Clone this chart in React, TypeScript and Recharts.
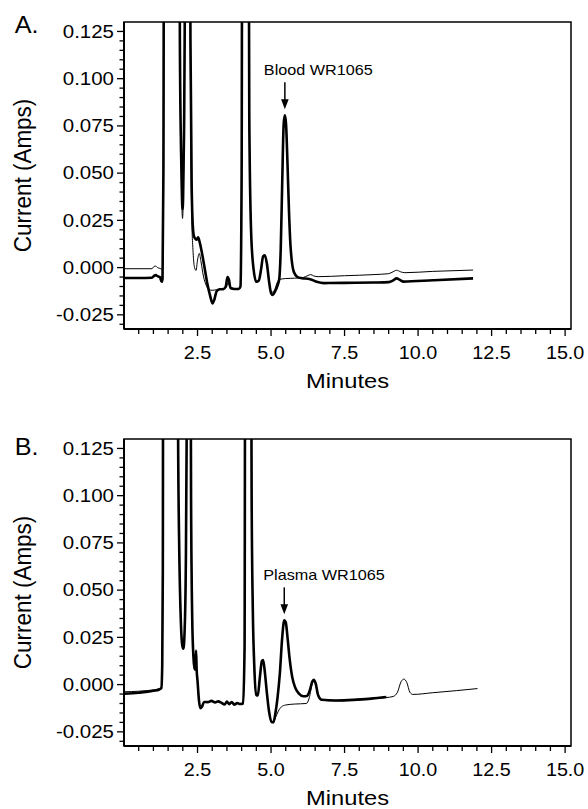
import React from 'react';
import { LineChart, Line, XAxis, YAxis, ReferenceArea, ReferenceDot } from 'recharts';

// ---- data (minutes, amps) ----
const bloodSampleA = [
  [0, -0.0055], [0.5, -0.0055], [0.95, -0.0054], [1.02, -0.0044], [1.08, -0.004], [1.14, -0.0045],
  [1.22, -0.005], [1.28, -0.0075], [1.31, -0.006], [1.34, 0.05], [1.37, 0.3], [1.86, 0.3],
  [1.9, 0.12], [1.94, 0.062], [1.97, 0.038], [1.99, 0.031], [2.01, 0.037], [2.04, 0.07],
  [2.07, 0.14], [2.09, 0.3], [2.22, 0.3], [2.26, 0.12], [2.3, 0.045], [2.34, 0.022],
  [2.38, 0.0165], [2.43, 0.0152], [2.47, 0.0148], [2.52, 0.016], [2.58, 0.013], [2.66, 0.007],
  [2.75, -0.001], [2.84, -0.009], [2.93, -0.015], [3.01, -0.019], [3.07, -0.017], [3.15, -0.0125],
  [3.25, -0.0115], [3.38, -0.0114], [3.46, -0.01], [3.52, -0.005], [3.57, -0.0065], [3.62, -0.0108],
  [3.75, -0.0113], [3.9, -0.0113], [3.96, -0.01], [4.0, 0.05], [4.03, 0.3], [4.22, 0.3],
  [4.26, 0.08], [4.32, 0.02], [4.4, 0.0], [4.5, -0.0075], [4.58, -0.007], [4.66, -0.001],
  [4.73, 0.006], [4.79, 0.0065], [4.86, 0.002], [4.93, -0.007], [5.0, -0.0135], [5.06, -0.0145],
  [5.14, -0.0125], [5.22, -0.0095], [5.28, -0.006], [5.33, 0.01], [5.38, 0.045], [5.43, 0.076],
  [5.47, 0.0806], [5.51, 0.076], [5.56, 0.055], [5.61, 0.03], [5.66, 0.012], [5.71, 0.003],
  [5.78, -0.0025], [5.9, -0.005], [6.05, -0.0056], [6.3, -0.006], [6.55, -0.0075], [6.8, -0.0082],
  [7.5, -0.0081], [8.5, -0.0079], [9.0, -0.0077], [9.15, -0.0068], [9.27, -0.0057], [9.38, -0.0065],
  [9.5, -0.0074], [10.5, -0.0067], [11.87, -0.0057],
];

const bloodBlankA = [
  [0, -0.0006], [0.95, -0.0006], [1.02, 0.0006], [1.08, 0.0008], [1.14, 0.0], [1.22, -0.0004],
  [1.28, -0.0008], [1.31, -0.0006], [1.34, 0.05], [1.37, 0.3], [1.86, 0.3], [1.9, 0.12],
  [1.94, 0.058], [1.97, 0.032], [1.99, 0.026], [2.01, 0.033], [2.04, 0.07], [2.07, 0.14],
  [2.09, 0.3], [2.22, 0.3], [2.26, 0.1], [2.3, 0.03], [2.35, 0.008], [2.4, 0.0], [2.45, -0.0015],
  [2.5, 0.004], [2.56, 0.0075], [2.62, 0.003], [2.7, -0.0045], [2.8, -0.0095], [2.9, -0.0118],
  [3.0, -0.012], [3.15, -0.0117], [3.35, -0.0112], [3.48, -0.0105], [3.53, -0.008], [3.58, -0.0095],
  [3.65, -0.011], [3.8, -0.0112], [3.92, -0.0112], [3.96, -0.01], [4.0, 0.05], [4.03, 0.3],
  [4.22, 0.3], [4.26, 0.08], [4.32, 0.02], [4.4, 0.0], [4.5, -0.0078], [4.58, -0.0072],
  [4.66, -0.0015], [4.73, 0.0052], [4.79, 0.0058], [4.86, 0.0015], [4.93, -0.0068], [5.0, -0.0125],
  [5.06, -0.013], [5.14, -0.011], [5.22, -0.0075], [5.3, -0.0062], [5.5, -0.0058], [5.8, -0.0056],
  [6.1, -0.0052], [6.25, -0.0042], [6.35, -0.0037], [6.45, -0.0044], [6.6, -0.0048], [7.5, -0.0043],
  [8.5, -0.0037], [9.0, -0.0032], [9.15, -0.0022], [9.27, -0.0014], [9.4, -0.0022], [9.55, -0.0027],
  [10.5, -0.002], [11.87, -0.0013],
];

const plasmaSampleB = [
  [0, -0.0048], [0.5, -0.0043], [1.0, -0.0033], [1.2, -0.0026], [1.27, -0.0018], [1.3, 0.01],
  [1.32, 0.06], [1.34, 0.3], [1.8, 0.3], [1.84, 0.13], [1.88, 0.07], [1.93, 0.035], [1.98, 0.021],
  [2.02, 0.019], [2.06, 0.028], [2.1, 0.06], [2.13, 0.13], [2.15, 0.3], [2.24, 0.3], [2.28, 0.1],
  [2.32, 0.035], [2.36, 0.015], [2.4, 0.008], [2.43, 0.0085], [2.45, 0.018], [2.47, 0.008],
  [2.5, 0.002], [2.55, -0.0085], [2.6, -0.0125], [2.65, -0.0118], [2.72, -0.0092], [2.85, -0.0093],
  [2.97, -0.0086], [3.1, -0.0095], [3.2, -0.0089], [3.32, -0.0097], [3.42, -0.0105], [3.5, -0.009],
  [3.58, -0.0104], [3.66, -0.0092], [3.75, -0.0106], [3.85, -0.0098], [3.95, -0.0103], [4.05, -0.01],
  [4.1, 0.02], [4.13, 0.3], [4.3, 0.3], [4.34, 0.1], [4.38, 0.04], [4.43, 0.01], [4.5, -0.0055],
  [4.55, -0.0058], [4.62, 0.004], [4.69, 0.0125], [4.73, 0.013], [4.78, 0.008], [4.85, -0.003],
  [4.93, -0.014], [5.02, -0.0198], [5.08, -0.02], [5.15, -0.015], [5.22, -0.007], [5.3, 0.006],
  [5.38, 0.025], [5.45, 0.034], [5.5, 0.033], [5.56, 0.025], [5.63, 0.014], [5.72, 0.004],
  [5.82, -0.0015], [5.95, -0.0048], [6.1, -0.0062], [6.22, -0.006], [6.32, -0.003], [6.4, 0.0015],
  [6.45, 0.0025], [6.52, 0.0005], [6.6, -0.0055], [6.72, -0.008], [7.2, -0.0084], [7.8, -0.0081],
  [8.4, -0.0074], [8.92, -0.0066],
];

const plasmaBlankB = [
  [0, -0.0038], [0.5, -0.0035], [1.0, -0.0028], [1.2, -0.0022], [1.27, -0.0016], [1.3, 0.01],
  [1.32, 0.06], [1.34, 0.3], [1.8, 0.3], [1.84, 0.13], [1.88, 0.07], [1.93, 0.035], [1.98, 0.021],
  [2.02, 0.019], [2.06, 0.028], [2.1, 0.06], [2.13, 0.13], [2.15, 0.3], [2.24, 0.3], [2.28, 0.1],
  [2.32, 0.035], [2.36, 0.015], [2.4, 0.008], [2.43, 0.0085], [2.45, 0.016], [2.47, 0.008],
  [2.5, 0.002], [2.55, -0.0085], [2.6, -0.0122], [2.65, -0.0116], [2.72, -0.0092], [2.85, -0.0092],
  [2.97, -0.0087], [3.1, -0.0094], [3.2, -0.009], [3.32, -0.0096], [3.42, -0.0103], [3.5, -0.0091],
  [3.58, -0.0103], [3.66, -0.0093], [3.75, -0.0104], [3.85, -0.0098], [3.95, -0.0102], [4.05, -0.01],
  [4.1, 0.02], [4.13, 0.3], [4.3, 0.3], [4.34, 0.1], [4.38, 0.04], [4.43, 0.01], [4.5, -0.0055],
  [4.55, -0.0058], [4.62, 0.004], [4.69, 0.012], [4.73, 0.0125], [4.78, 0.008], [4.85, -0.003],
  [4.93, -0.014], [5.02, -0.0196], [5.08, -0.02], [5.15, -0.0175], [5.25, -0.014], [5.35, -0.0118],
  [5.5, -0.0108], [5.8, -0.0103], [6.2, -0.01], [6.3, -0.007], [6.4, 0.0005], [6.45, 0.0018],
  [6.52, -0.0002], [6.6, -0.006], [6.72, -0.0083], [7.2, -0.0086], [7.8, -0.0083], [8.4, -0.0076],
  [8.9, -0.0069], [9.15, -0.0063], [9.3, -0.004], [9.42, 0.0015], [9.52, 0.0029], [9.62, 0.001],
  [9.72, -0.004], [9.82, -0.0052], [10.5, -0.0043], [11.3, -0.0032], [12.02, -0.0021],
];

const xTicks = [0.5, 1, 1.5, 2, 2.5, 3, 3.5, 4, 4.5, 5, 5.5, 6, 6.5, 7, 7.5, 8, 8.5, 9, 9.5, 10,
  10.5, 11, 11.5, 12, 12.5, 13, 13.5, 14, 14.5, 15];
const yTicks = [-0.03, -0.025, -0.02, -0.015, -0.01, -0.005, 0, 0.005, 0.01, 0.015, 0.02, 0.025,
  0.03, 0.035, 0.04, 0.045, 0.05, 0.055, 0.06, 0.065, 0.07, 0.075, 0.08, 0.085, 0.09, 0.095, 0.1,
  0.105, 0.11, 0.115, 0.12, 0.125];
const xDomain: [number, number] = [0, 15.2];
const yDomain: [number, number] = [-0.0325, 0.13];

const annotA = { t: 5.47, v: 0.0806, text: 'Blood WR1065' };
const annotB = { t: 5.45, v: 0.034, text: 'Plasma WR1065' };

const FONT = '"Liberation Sans", Arial, Helvetica, sans-serif';

const toPts = (arr: number[][]) => arr.map(([t, v]) => ({ t, v }));

const isMult = (v: number, step: number) => Math.abs(v / step - Math.round(v / step)) < 1e-6;

const XTick = (p: any) => {
  const { x, y, payload } = p;
  const v = payload.value as number;
  const major = isMult(v, 2.5);
  return (
    <g>
      <line x1={x} y1={y} x2={x} y2={y + (major ? 7 : 5)} stroke="#000" strokeWidth={1.3} />
      {major && (
        <text transform={`translate(${x},${y + 30}) scale(1.13,1)`} textAnchor="middle"
          fontSize={17.5} fontFamily={FONT} fill="#000">{v.toFixed(1)}</text>
      )}
    </g>
  );
};

const YTick = (p: any) => {
  const { x, y, payload } = p;
  const v = payload.value as number;
  const major = isMult(v, 0.025);
  return (
    <g>
      <line x1={x} y1={y} x2={x - (major ? 7 : 4.5)} y2={y} stroke="#000" strokeWidth={1.3} />
      {major && (
        <text transform={`translate(${x - 10},${y}) scale(1.17,1)`} textAnchor="end" dy="0.36em"
          fontSize={17.5} fontFamily={FONT} fill="#000">{v.toFixed(3)}</text>
      )}
    </g>
  );
};

const XLabel = (p: any) => {
  const vb = p.viewBox || {};
  const cx = vb.x + vb.width / 2;
  return (
    <text transform={`translate(${cx},${vb.y + 59}) scale(1.13,1)`} textAnchor="middle"
      fontSize={21} fontFamily={FONT} fill="#000">Minutes</text>
  );
};

const YLabel = (p: any) => {
  const vb = p.viewBox || {};
  const cy = vb.y + vb.height / 2;
  return (
    <text transform={`translate(31,${cy}) rotate(-90) scale(1,1.1)`} textAnchor="middle"
      fontSize={22.5} fontFamily={FONT} fill="#000">Current (Amps)</text>
  );
};

const makeAnnot = (text: string) => (p: any) => {
  const { cx, cy } = p;
  return (
    <g>
      <text transform={`translate(${cx - 21},${cy - 40}) scale(1.08,1)`} fontSize={15}
        fontFamily={FONT} fill="#000">{text}</text>
      <line x1={cx} y1={cy - 33} x2={cx} y2={cy - 14} stroke="#000" strokeWidth={1.5} />
      <polygon points={`${cx - 3.8},${cy - 16} ${cx + 3.8},${cy - 16} ${cx},${cy - 6}`} fill="#000" />
    </g>
  );
};

type PanelProps = {
  letter: string; letterY: number; top: number; height: number; xAxisHeight: number;
  sample: number[][]; blank: number[][]; annot: { t: number; v: number; text: string };
};

const Panel = ({ letter, letterY, top, height, xAxisHeight, sample, blank, annot }: PanelProps) => (
  <div style={{ position: 'absolute', left: 0, top, width: 588, height }}>
    <LineChart width={588} height={height} margin={{ top: 22, right: 17, bottom: 0, left: 0 }}>
      <XAxis type="number" dataKey="t" domain={xDomain} ticks={xTicks} interval={0}
        allowDataOverflow tickLine={false} tickSize={0} tickMargin={0} tick={<XTick />}
        height={xAxisHeight} axisLine={{ stroke: '#000', strokeWidth: 2 }}
        label={<XLabel />} />
      <YAxis type="number" dataKey="v" domain={yDomain} ticks={yTicks} interval={0}
        allowDataOverflow tickLine={false} tickSize={0} tickMargin={0} tick={<YTick />}
        width={124} axisLine={{ stroke: '#000', strokeWidth: 2 }}
        label={<YLabel />} />
      <ReferenceArea x1={xDomain[0]} x2={xDomain[1]} y1={yDomain[0]} y2={yDomain[1]}
        fill="none" fillOpacity={0} stroke="#000" strokeWidth={1.5} ifOverflow="visible" />
      <Line data={toPts(sample)} dataKey="v" type="monotone" stroke="#000" strokeWidth={2.6}
        dot={false} isAnimationActive={false} />
      <Line data={toPts(blank)} dataKey="v" type="monotone" stroke="#000" strokeWidth={1}
        dot={false} isAnimationActive={false} />
      <ReferenceDot x={annot.t} y={annot.v} r={0} shape={makeAnnot(annot.text)} ifOverflow="visible" />
    </LineChart>
    <svg width={60} height={50} style={{ position: 'absolute', left: 0, top: 0 }}>
      <text x={14} y={letterY} fontSize={24} fontFamily={FONT} fill="#000"
        transform="scale(1.05,1)">{letter}</text>
    </svg>
  </div>
);

export default function App() {
  return (
    <div style={{ position: 'absolute', left: 0, top: 0, width: 588, height: 809, background: '#fff' }}>
      <Panel letter="A." letterY={33} top={0} height={400} xAxisHeight={71}
        sample={bloodSampleA} blank={bloodBlankA} annot={annotA} />
      <Panel letter="B." letterY={38} top={417} height={392} xAxisHeight={63}
        sample={plasmaSampleB} blank={plasmaBlankB} annot={annotB} />
    </div>
  );
}
